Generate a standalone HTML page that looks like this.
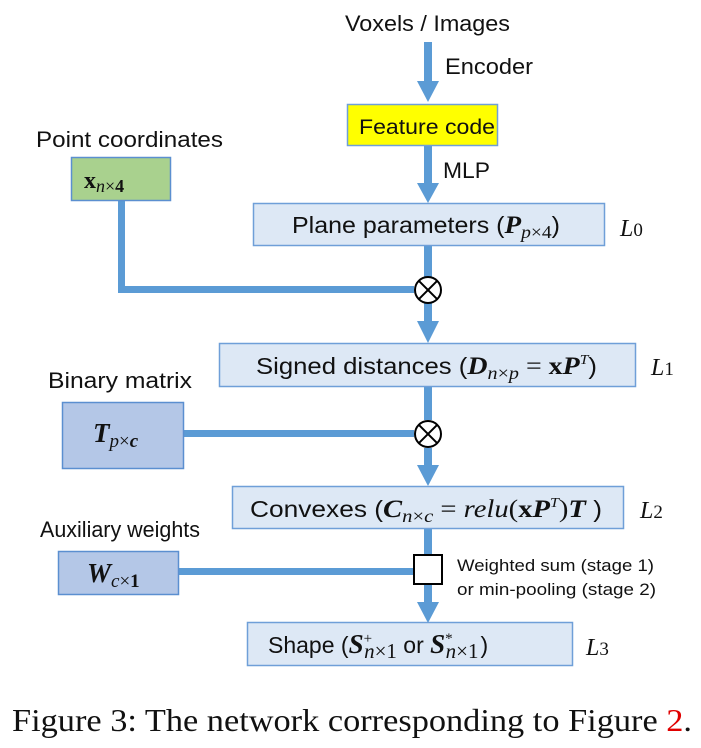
<!DOCTYPE html>
<html><head><meta charset="utf-8"><style>
html,body{margin:0;padding:0;background:#fff;}
svg{display:block;}
.s{font-family:"Liberation Sans",sans-serif;fill:#111;}
.m{font-family:"Liberation Serif",serif;fill:#111;}
</style></head><body>
<svg width="701" height="748" viewBox="0 0 701 748" xmlns="http://www.w3.org/2000/svg">
<g fill="#5b9bd5" stroke="none">
<rect x="424" y="42" width="8" height="40"/>
<polygon points="417,81 439,81 428,102"/>
<rect x="424" y="145" width="8" height="40"/>
<polygon points="417,183 439,183 428,203"/>
<rect x="424" y="245" width="8" height="32"/>
<rect x="424" y="303" width="8" height="20"/>
<polygon points="417,321 439,321 428,343"/>
<rect x="118" y="200" width="7" height="93"/>
<rect x="118" y="286" width="296" height="7"/>
<rect x="424" y="386" width="8" height="34"/>
<rect x="424" y="448" width="8" height="18"/>
<polygon points="417,465 439,465 428,486"/>
<rect x="183" y="430" width="231" height="7"/>
<rect x="424" y="528" width="8" height="27"/>
<rect x="424" y="584" width="8" height="20"/>
<polygon points="417,602 439,602 428,623"/>
<rect x="158" y="568" width="256" height="7"/>
</g>
<rect x="347.5" y="104.5" width="150" height="41" fill="#ffff00" stroke="#6f9fd8" stroke-width="1.5"/>
<rect x="253.5" y="203.5" width="351" height="42" fill="#dde8f5" stroke="#6f9fd8" stroke-width="1.5"/>
<rect x="71.5" y="157.5" width="99" height="43" fill="#a9d18e" stroke="#5b8fd0" stroke-width="1.5"/>
<rect x="219.5" y="343.5" width="416" height="43" fill="#dde8f5" stroke="#6f9fd8" stroke-width="1.5"/>
<rect x="62.5" y="402.5" width="121" height="66" fill="#b4c7e7" stroke="#5b8fd0" stroke-width="1.5"/>
<rect x="232.5" y="486.5" width="391" height="42" fill="#dde8f5" stroke="#6f9fd8" stroke-width="1.5"/>
<rect x="58.5" y="551.5" width="120" height="43" fill="#b4c7e7" stroke="#5b8fd0" stroke-width="1.5"/>
<rect x="247.5" y="622.5" width="325" height="43" fill="#dde8f5" stroke="#6f9fd8" stroke-width="1.5"/>
<g stroke="#000" stroke-width="2" fill="#fff">
<circle cx="428" cy="290" r="13"/>
<line x1="418.8" y1="280.8" x2="437.2" y2="299.2"/><line x1="437.2" y1="280.8" x2="418.8" y2="299.2"/>
<circle cx="428" cy="434" r="13"/>
<line x1="418.8" y1="424.8" x2="437.2" y2="443.2"/><line x1="437.2" y1="424.8" x2="418.8" y2="443.2"/>
<rect x="414" y="555" width="28" height="29"/>
</g>
<text class="s" x="345" y="31" font-size="22" textLength="165" lengthAdjust="spacingAndGlyphs">Voxels / Images</text>
<text class="s" x="445" y="74" font-size="22" textLength="88" lengthAdjust="spacingAndGlyphs">Encoder</text>
<text class="s" x="359" y="134" font-size="21" textLength="136" lengthAdjust="spacingAndGlyphs">Feature code</text>
<text class="s" x="443" y="178" font-size="22" textLength="47" lengthAdjust="spacingAndGlyphs">MLP</text>
<text class="s" x="36" y="147" font-size="22" textLength="187" lengthAdjust="spacingAndGlyphs">Point coordinates</text>
<text class="m" x="84" y="188" font-size="24" font-weight="bold">x<tspan font-style="italic" font-weight="normal" font-size="18" dy="4">n</tspan><tspan font-weight="normal" font-size="18">×</tspan><tspan font-size="18">4</tspan></text>
<text class="s" x="292" y="233" font-size="23" textLength="268" lengthAdjust="spacingAndGlyphs">Plane parameters (<tspan class="m" font-style="italic" font-weight="bold" font-size="25">P</tspan><tspan class="m" font-style="italic" font-size="18" dy="5">p</tspan><tspan class="m" font-size="18">×4</tspan><tspan dy="-5">)</tspan></text>
<text class="m" x="620" y="236" font-size="24" font-style="italic">L<tspan font-style="normal" font-size="19">0</tspan></text>
<text class="s" x="256" y="374" font-size="23" textLength="341" lengthAdjust="spacingAndGlyphs">Signed distances (<tspan class="m" font-style="italic" font-weight="bold" font-size="25">D</tspan><tspan class="m" font-style="italic" font-size="18" dy="5">n</tspan><tspan class="m" font-size="18">×</tspan><tspan class="m" font-style="italic" font-size="18">p</tspan><tspan class="m" font-size="25" dy="-5"> = </tspan><tspan class="m" font-weight="bold" font-size="25">x</tspan><tspan class="m" font-style="italic" font-weight="bold" font-size="25">P</tspan><tspan class="m" font-style="italic" font-size="14" dy="-10">T</tspan><tspan dy="10">)</tspan></text>
<text class="m" x="651" y="375" font-size="24" font-style="italic">L<tspan font-style="normal" font-size="19">1</tspan></text>
<text class="s" x="48" y="388" font-size="22" textLength="144" lengthAdjust="spacingAndGlyphs">Binary matrix</text>
<text class="m" x="93" y="442" font-size="27" font-style="italic" font-weight="bold">T<tspan font-weight="normal" font-size="19" dy="5">p</tspan><tspan font-style="normal" font-weight="normal" font-size="19">×</tspan><tspan font-size="19">c</tspan></text>
<text class="s" x="250" y="517" font-size="23" textLength="352" lengthAdjust="spacingAndGlyphs">Convexes (<tspan class="m" font-style="italic" font-weight="bold" font-size="25">C</tspan><tspan class="m" font-style="italic" font-size="18" dy="5">n</tspan><tspan class="m" font-size="18">×</tspan><tspan class="m" font-style="italic" font-size="18">c</tspan><tspan class="m" font-size="25" dy="-5"> = </tspan><tspan class="m" font-style="italic" font-size="25">relu</tspan><tspan class="m" font-size="25">(</tspan><tspan class="m" font-weight="bold" font-size="25">x</tspan><tspan class="m" font-style="italic" font-weight="bold" font-size="25">P</tspan><tspan class="m" font-style="italic" font-size="14" dy="-10">T</tspan><tspan class="m" font-size="25" dy="10">)</tspan><tspan class="m" font-style="italic" font-weight="bold" font-size="25">T</tspan> )</text>
<text class="m" x="640" y="518" font-size="24" font-style="italic">L<tspan font-style="normal" font-size="19">2</tspan></text>
<text class="s" x="40" y="537" font-size="22" textLength="160" lengthAdjust="spacingAndGlyphs">Auxiliary weights</text>
<text class="m" x="87" y="582" font-size="27" font-style="italic" font-weight="bold">W<tspan font-weight="normal" font-size="19" dy="5">c</tspan><tspan font-style="normal" font-weight="normal" font-size="19">×</tspan><tspan font-style="normal" font-size="19">1</tspan></text>
<text class="s" x="457" y="571" font-size="17" textLength="197" lengthAdjust="spacingAndGlyphs">Weighted sum (stage 1)</text>
<text class="s" x="457" y="595" font-size="17" textLength="199" lengthAdjust="spacingAndGlyphs">or min-pooling (stage 2)</text>
<text class="s" x="268" y="653" font-size="23">Shape (<tspan class="m" font-style="italic" font-weight="bold" font-size="27">S</tspan><tspan class="m" font-size="15" dy="-10">+</tspan><tspan class="m" font-style="italic" font-size="21" dy="15" dx="-8">n</tspan><tspan class="m" font-size="21">×1</tspan><tspan dy="-5"> or </tspan><tspan class="m" font-style="italic" font-weight="bold" font-size="27">S</tspan><tspan class="m" font-size="15" dy="-10">*</tspan><tspan class="m" font-style="italic" font-size="21" dy="15" dx="-7">n</tspan><tspan class="m" font-size="21">×1</tspan><tspan dy="-5" dx="2">)</tspan></text>
<text class="m" x="586" y="655" font-size="24" font-style="italic">L<tspan font-style="normal" font-size="19">3</tspan></text>
<text class="m" x="12" y="731" font-size="32" textLength="680" lengthAdjust="spacingAndGlyphs">Figure 3: The network corresponding to Figure <tspan fill="#e00000">2</tspan>.</text>
</svg>
</body></html>
